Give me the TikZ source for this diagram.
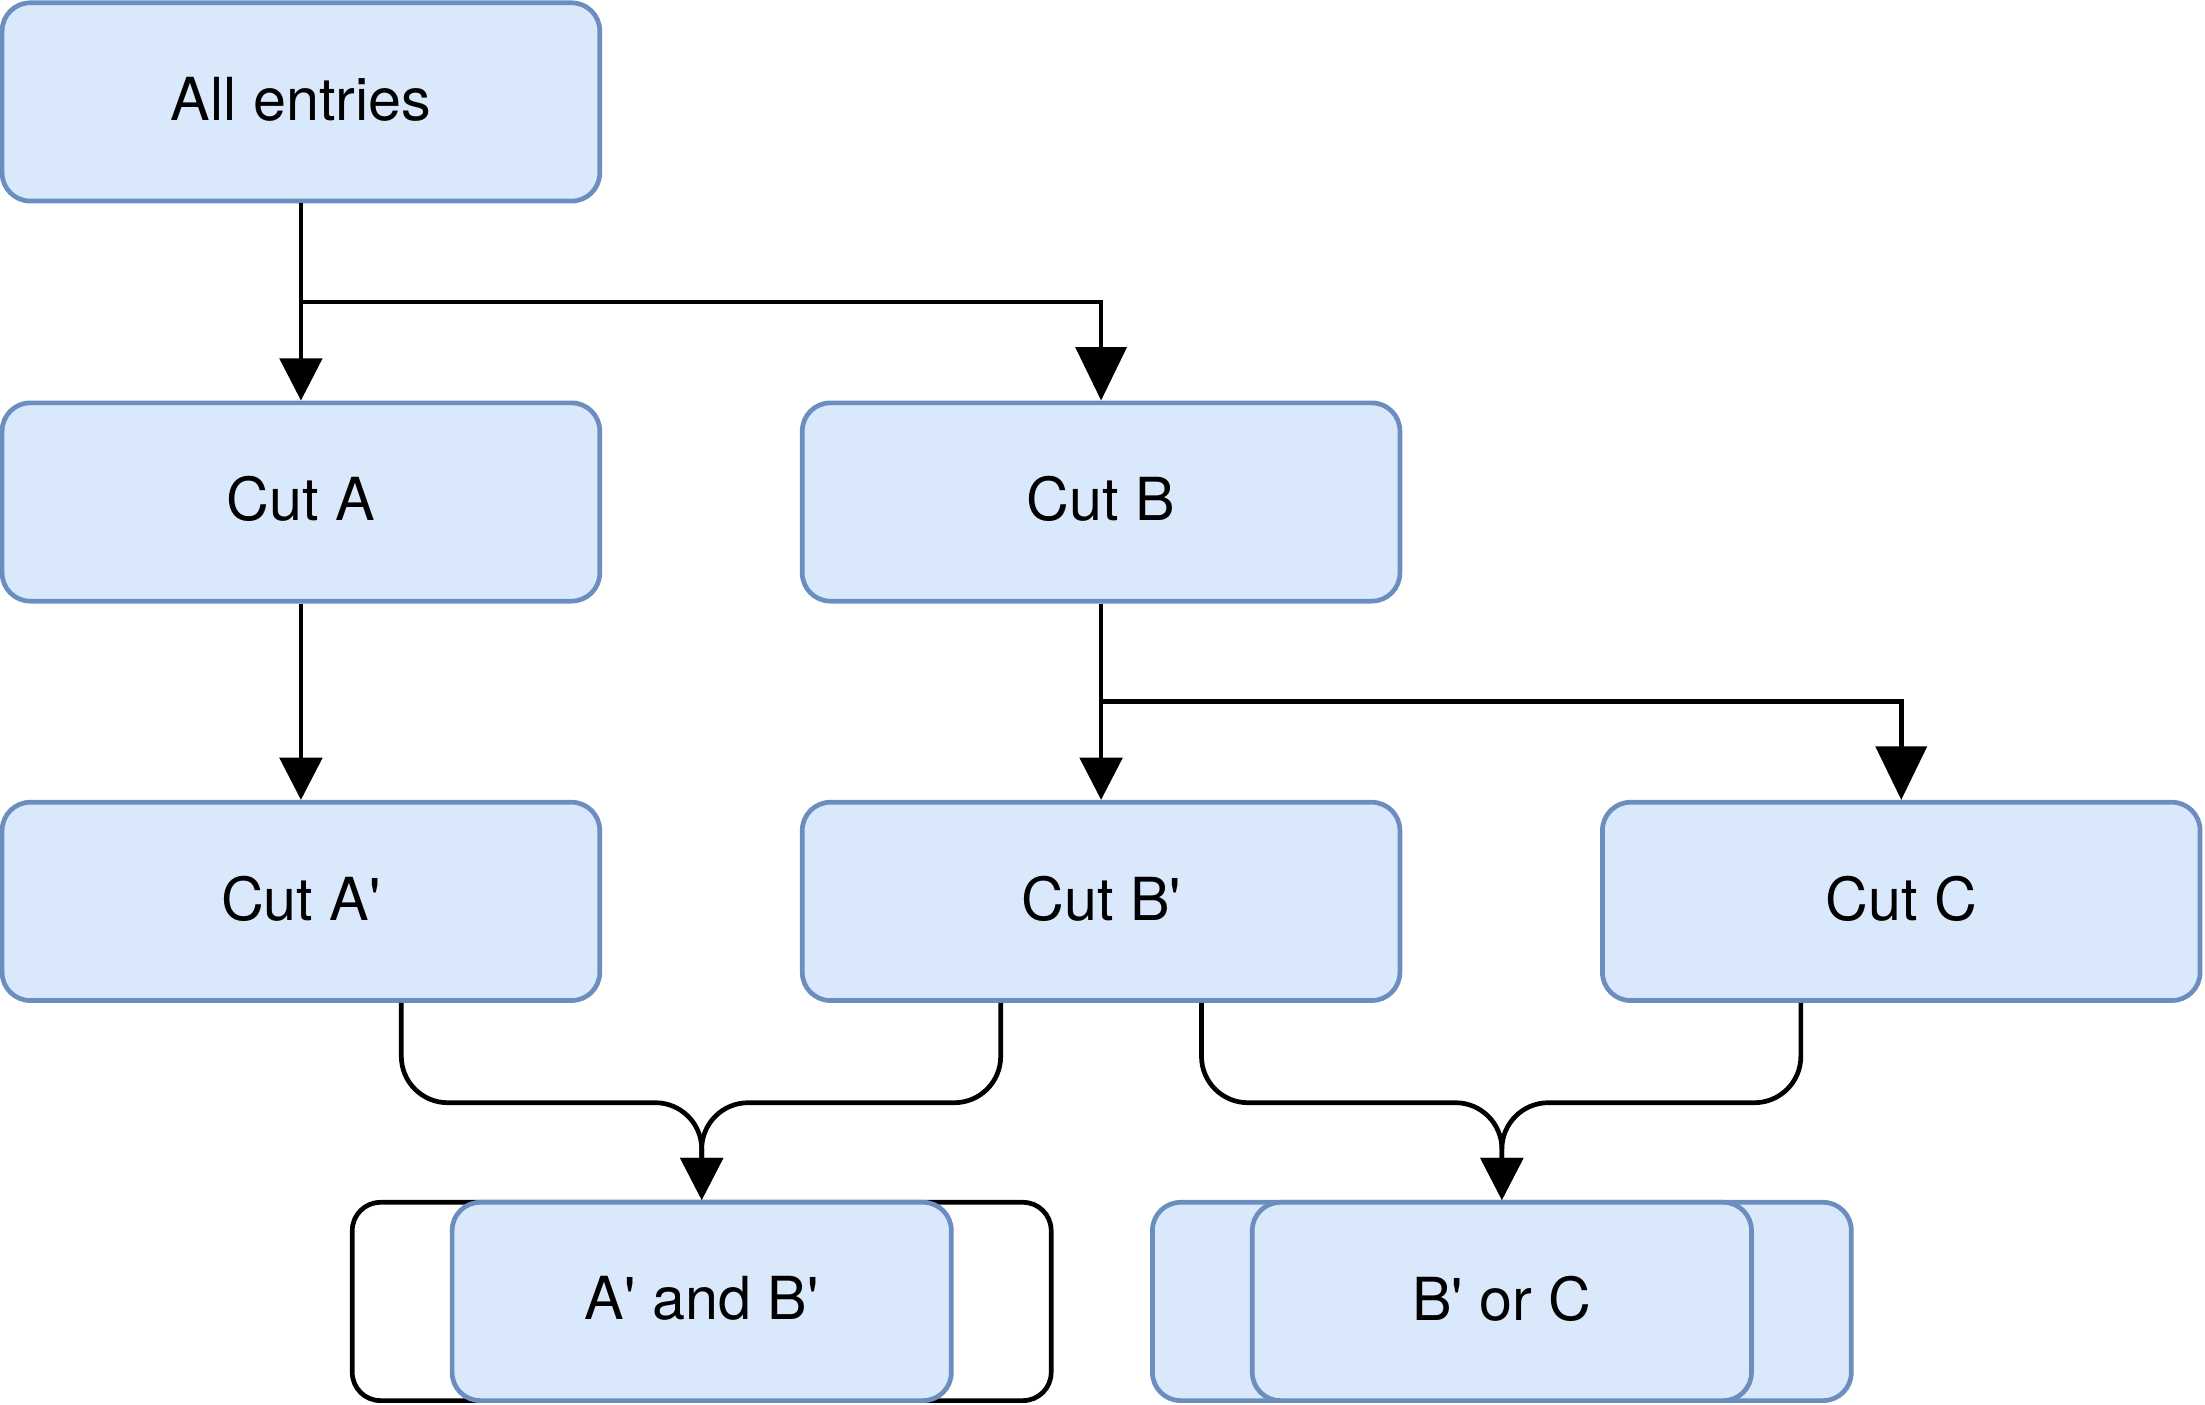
\documentclass[tikz,border=0pt]{standalone}
\usepackage{fontspec}
\setmainfont{TeX Gyre Heros}
\usepackage{tikz}
\usetikzlibrary{calc}
\usetikzlibrary{arrows.meta,arrows}
\definecolor{boxfill}{HTML}{DAE8FC}
\definecolor{boxline}{HTML}{6C8EBF}
\def\pr{\textquotesingle}

\tikzset{
  box/.style={draw=boxline, fill=boxfill, line width=0.95pt, rounded corners=2mm,
    minimum width=42.5mm, minimum height=14.1mm, text depth=0.5mm,
    font=\fontsize{12pt}{14pt}\selectfont},
  back/.style={line width=0.95pt, rounded corners=2mm, minimum width=49.7mm, minimum height=14.1mm},
  big/.style={-{Triangle[length=3.8mm, width=3.6mm]}},
}

\begin{document}
\begin{tikzpicture}[x=0.1mm, y=-0.1mm, line width=0.95pt, >={Triangle[length=3mm, width=3mm]}]
\useasboundingbox (0,0) rectangle (1568,999);
% vertices

\node[box] (all) at (214, 72.5) {All entries};

\node[box] (cutA) at (214, 357) {Cut A};
\node[box] (cutB) at (783, 357) {Cut B};

\node[box] (cutAp) at (214, 641) {Cut A\pr};
\node[box] (cutBp) at (783, 641) {Cut B\pr};
\node[box] (cutC) at (1352, 641) {Cut C};

\node[back, draw=black, fill=white] (bothback) at (499, 925.5) {};
\node[box, minimum width=35.5mm] (both) at (499, 925.5) {A\pr{} and B\pr};
\node[back, draw=boxline, fill=boxfill] (eitherback) at (1068, 925.5) {};
\node[box, minimum width=35.5mm] (either) at (1068, 925.5) {B\pr{} or C};

% edges

\draw[->] (all) -- (cutA);
\draw[big] (all.south) |- ($(all.south)!0.5!(cutA.north)$) -| (cutB.north);

\draw[->] (cutA) -- (cutAp);
\draw[->] (cutB) -- (cutBp);
\draw[big] (cutB.south) |- ($(cutB.south)!0.5!(cutBp.north)$) -| (cutC.north);

% merging
\draw[->, rounded corners=3.3mm] ($(cutAp.south west)!2/3!(cutAp.south east)$) -- ++(0,71) -| (both.north);
\draw[->, rounded corners=3.3mm] ($(cutBp.south west)!1/3!(cutBp.south east)$) -- ++(0,71) -| (both.north);
\draw[->, rounded corners=3.3mm] ($(cutBp.south west)!2/3!(cutBp.south east)$) -- ++(0,71) -| (either.north);
\draw[->, rounded corners=3.3mm] ($(cutC.south west)!1/3!(cutC.south east)$) -- ++(0,71) -| (either.north);

\end{tikzpicture}
\end{document}
